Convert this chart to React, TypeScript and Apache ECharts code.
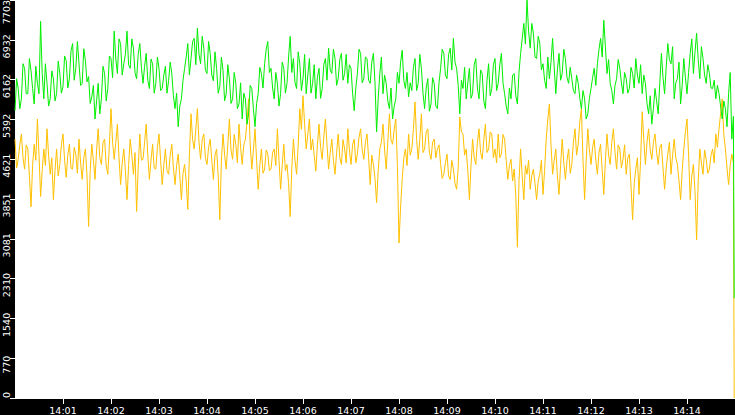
import { useEffect, useRef } from 'react';
import * as echarts from 'echarts';

// one sample every 2 s from 14:00:00, last sample closes the window
const SAMPLE_STEP = 2;
const LAST_TIME = 899;

const greenValues = [
  5560, 6180, 5990, 5600, 5790, 6470, 6380, 5890, 5890, 6570, 6340, 5990, 5690, 6420, 6090, 5890, 7290, 6280, 5790, 6470,
  6090, 5650, 5790, 6330, 6180, 5750, 5890, 6520, 6280, 5900, 6030, 6620, 6530, 6000, 6180, 6720, 6860, 6150, 6380, 6900,
  6470, 6050, 6090, 6760, 6530, 6120, 6220, 5700, 5830, 6050, 5400, 5750, 6090, 5500, 5790, 6420, 6280, 5750, 5990, 6620,
  6570, 6200, 7100, 6560, 6280, 6950, 6860, 6250, 6470, 6650, 7100, 6450, 6380, 6950, 6770, 6300, 6180, 6650, 6860, 6400,
  6090, 6420, 6670, 6150, 5990, 6560, 6470, 5900, 6090, 6600, 6380, 5950, 5990, 6250, 6420, 5900, 6140, 6500, 6280, 5850,
  5600, 5900, 5250, 5650, 5790, 6150, 6380, 6600, 6860, 6250, 6570, 6900, 6960, 6450, 7160, 6650, 6470, 7000, 6770, 6350,
  6280, 6900, 6670, 6250, 6140, 6700, 6380, 5900, 6030, 6600, 6340, 5750, 5890, 6450, 6180, 5700, 5790, 6300, 6090, 5600,
  5690, 6100, 5400, 5900, 5790, 5300, 5500, 6050, 5990, 5600, 5250, 5700, 5890, 6400, 6280, 6000, 6470, 6750, 6900, 6300,
  6380, 6000, 5790, 6300, 6090, 5650, 5890, 6500, 6380, 5900, 6090, 6600, 7000, 6300, 6570, 6100, 5990, 6700, 6470, 5950,
  6180, 6650, 5890, 6250, 6570, 5900, 6090, 6450, 5790, 6200, 6380, 5800, 5990, 6450, 6570, 6150, 6770, 6350, 6280, 6750,
  6570, 6050, 6180, 6550, 6670, 6150, 6280, 6650, 6090, 6450, 6380, 5900, 5560, 6000, 6280, 6750, 6670, 6100, 6180, 6600,
  6570, 6150, 6090, 6500, 6670, 6100, 5150, 5800, 6280, 6600, 5890, 6250, 6090, 5750, 5600, 6000, 5400, 5650, 5790, 6300,
  6090, 6500, 6730, 6150, 5990, 6300, 5830, 6100, 5950, 6400, 6570, 5950, 6090, 6650, 6380, 5900, 5600, 6000, 6180, 5550,
  5690, 6200, 6090, 5650, 5600, 6100, 6380, 6750, 6670, 6250, 6180, 6650, 6770, 6350, 6960, 6500, 6380, 6050, 5500, 6150,
  5990, 6400, 5790, 6100, 6380, 5800, 5890, 6450, 6570, 6000, 5790, 6350, 6280, 5750, 5600, 6150, 6470, 5850, 5990, 6450,
  6570, 5950, 6090, 6450, 6670, 6100, 5890, 5650, 5500, 6000, 5790, 6250, 6280, 5850, 5690, 6300, 6670, 6950, 7250, 6850,
  7700, 7100, 6770, 7250, 7060, 6600, 6570, 7000, 6860, 6350, 6470, 6150, 5990, 6600, 6180, 6500, 6960, 6400, 5890, 6350,
  6670, 6150, 6280, 6750, 6570, 6200, 6090, 6400, 6180, 5950, 5890, 6250, 6090, 5800, 5600, 5950, 5790, 5400, 5500, 5800,
  5990, 6200, 6380, 6050, 6470, 6750, 6960, 6600, 7310, 6800, 6280, 6550, 6090, 5950, 5690, 6050, 6180, 6550, 6380, 6100,
  5890, 6300, 6180, 5900, 5990, 6400, 6280, 6000, 6570, 6250, 6090, 6450, 5890, 6250, 6090, 5700, 5500, 5850, 5300, 5600,
  5990, 5750, 5500, 6100, 6670, 6200, 5890, 6400, 6860, 6550, 6470, 6800, 5790, 6100, 6180, 6500, 5690, 6050, 6570, 6200,
  5890, 6300, 6670, 6950, 6280, 6700, 7060, 6550, 6180, 6800, 6570, 6250, 6090, 6450, 6280, 6000, 5990, 6150, 5790, 6050,
  5890, 5650, 5400, 5750, 5600, 5250, 5890, 6300, 5010, 5450,
  1930,
];

const orangeValues = [
  5010, 4450, 4620, 4900, 5110, 4650, 4430, 4900, 4820, 4300, 3700, 4500, 4910, 4600, 5400, 4700, 3900, 4400, 4820, 4500,
  5210, 4700, 4330, 4650, 3840, 4400, 4820, 4300, 4520, 4900, 5110, 4600, 4270, 4700, 4910, 4450, 4430, 4850, 4720, 4350,
  5010, 4550, 4230, 4650, 4820, 4300, 3320, 4400, 4910, 4600, 4230, 4800, 5210, 4650, 4520, 4950, 5010, 4500, 4330, 4900,
  5600, 4950, 4620, 4950, 5300, 4650, 4130, 4550, 4820, 4400, 3840, 4500, 5010, 4700, 4330, 4750, 3610, 4450, 5110, 4600,
  4620, 4950, 5300, 4700, 4230, 4600, 4910, 4450, 4430, 4850, 5110, 4600, 4130, 4500, 4820, 4400, 4330, 4700, 4910, 4450,
  4130, 4500, 4720, 4300, 3840, 4350, 4520, 4200, 3650, 4700, 5500, 5000, 4820, 5200, 5600, 4950, 4620, 5000, 5110, 4650,
  4520, 4850, 5010, 4600, 4230, 4700, 4820, 4300, 3450, 4600, 5110, 4700, 4430, 4900, 5400, 4800, 4620, 5100, 4910, 4550,
  5300, 4850, 4520, 4900, 5010, 5350, 5790, 4900, 4430, 4800, 5210, 4600, 4040, 4500, 4820, 4350, 4430, 4800, 4720, 4400,
  4430, 4750, 4820, 4500, 5210, 4600, 4040, 4500, 4910, 4400, 4520, 4150, 3510, 4450, 5010, 4600, 4330, 4900, 5600, 5200,
  5850, 5300, 4820, 5100, 5400, 4800, 5010, 4700, 4390, 4900, 5300, 4850, 4620, 5050, 5400, 4900, 4430, 4750, 5010, 4600,
  4330, 4750, 5110, 4650, 4520, 5000, 4820, 4550, 5210, 4800, 4520, 4900, 5010, 4550, 4720, 5050, 5210, 4800, 4620, 4950,
  5110, 4650, 4130, 4700, 4520, 4250, 3780, 4400, 4820, 4950, 5300, 4800, 4430, 4950, 5500, 5000, 4910, 5200, 5400, 4500,
  3000, 3700, 4230, 4650, 4820, 4500, 5110, 4700, 4820, 5200, 5730, 5000, 4620, 5000, 5500, 4750, 4820, 5150, 5210, 4750,
  4620, 4950, 5010, 4650, 4820, 4900, 4520, 4250, 4330, 4550, 4720, 4300, 4230, 4600, 4430, 4150, 4040, 4450, 5440, 5150,
  5110, 4700, 4820, 4400, 3840, 4500, 5010, 4650, 4520, 4950, 5210, 4750, 4620, 5000, 5300, 4750, 4820, 5150, 5110, 4650,
  4820, 4550, 5110, 4650, 4720, 5100, 5010, 4600, 4230, 4500, 4620, 4200, 4430, 3900, 2920, 4200, 4820, 4300, 3840, 4500,
  4330, 4600, 4040, 4300, 4430, 4150, 3840, 4200, 4330, 4600, 3940, 4400, 5010, 5400, 5690, 4900, 4330, 4600, 4820, 4300,
  3940, 4500, 5010, 4550, 4230, 4600, 4820, 4350, 4520, 4950, 5210, 4700, 4910, 5350, 5600, 4600, 3840, 4600, 5210, 4800,
  4520, 4850, 5010, 4600, 4330, 4750, 4910, 4400, 3940, 4600, 5110, 4700, 4520, 4950, 5210, 4750, 4430, 4900, 4820, 4450,
  4620, 4900, 4330, 4650, 4720, 4100, 3450, 4150, 4430, 4650, 3940, 4600, 5540, 5000, 4520, 4950, 5210, 4800, 4620, 4950,
  5110, 4750, 4520, 4850, 4910, 4450, 4040, 4450, 4720, 4950, 4330, 4700, 5010, 4650, 4520, 4200, 3840, 4400, 4820, 5150,
  5400, 4700, 3840, 4300, 4520, 4000, 3060, 4200, 4820, 4550, 4330, 4800, 4620, 4350, 4430, 4700, 4820, 4550, 5110, 4850,
  5210, 5500, 5790, 5100, 4820, 4450, 4130, 4500, 4720, 4550,
  0,
];

const Y_MAX = 7703;
const Y_STEP = 770.3;

function toPoints(values: number[]) {
  return values.map((v, i) => [i === values.length - 1 ? LAST_TIME : i * SAMPLE_STEP, v]);
}

export default function App() {
  const chartRef = useRef<HTMLDivElement>(null);

  useEffect(() => {
    document.body.style.margin = '0';
    if (!chartRef.current) return;
    const chart = echarts.init(chartRef.current, undefined, { renderer: 'svg' });

    const label = {
      color: '#fff',
      fontFamily: 'DejaVu Sans',
      fontSize: 9.5,
    };

    chart.setOption({
      animation: false,
      backgroundColor: '#000',
      grid: {
        left: 15,
        right: 0,
        top: 0,
        bottom: 17,
        show: true,
        backgroundColor: '#fff',
        borderWidth: 0,
        containLabel: false,
        outerBoundsMode: 'none',
      },
      xAxis: {
        type: 'value',
        min: 0,
        max: 900,
        interval: 60,
        axisLine: { lineStyle: { color: '#fff', width: 1 } },
        axisTick: { length: 6, lineStyle: { color: '#fff' } },
        splitLine: { show: false },
        axisLabel: {
          ...label,
          margin: 7,
          showMinLabel: false,
          showMaxLabel: false,
          formatter: (v: number) => `14:${String(Math.round(v / 60)).padStart(2, '0')}`,
        },
      },
      yAxis: {
        type: 'value',
        min: 0,
        max: Y_MAX,
        interval: Y_STEP,
        axisLine: { show: true, lineStyle: { color: '#fff' } },
        axisTick: { show: true, length: 5, lineStyle: { color: '#fff' } },
        splitLine: { show: false },
        axisLabel: {
          ...label,
          rotate: 90,
          margin: 9,
          align: 'center',
          verticalAlign: 'middle',
          alignMinLabel: 'left',
          alignMaxLabel: 'right',
          // trailing spacer shifts the rotated label so it hangs just past its tick
          formatter: (v: number) => {
            const n = Math.floor(v + 1e-6);
            return n >= Y_MAX ? `{v|${n}}` : `{v|${n}}{s| }`;
          },
          rich: {
            v: { ...label },
            s: { ...label, width: 13 },
          },
        },
      },
      series: [
        {
          type: 'line',
          data: toPoints(orangeValues),
          showSymbol: false,
          lineStyle: { color: '#ffc000', width: 1 },
          itemStyle: { color: '#ffc000' },
        },
        {
          type: 'line',
          data: toPoints(greenValues),
          showSymbol: false,
          lineStyle: { color: '#00ee00', width: 1 },
          itemStyle: { color: '#00ee00' },
        },
      ],
    });

    return () => {
      chart.dispose();
    };
  }, []);

  return <div ref={chartRef} style={{ width: '735px', height: '415px' }} />;
}
